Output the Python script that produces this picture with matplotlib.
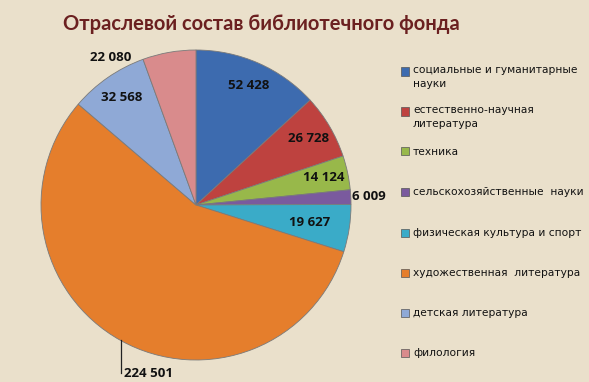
import numpy as np
import matplotlib
matplotlib.use('Agg')
import matplotlib.pyplot as plt

categories = ['социальные и гуманитарные\nнауки', 'естественно-научная\nлитература', 'техника',
              'сельскохозяйственные  науки', 'физическая культура и спорт',
              'художественная  литература', 'детская литература', 'филология']
values = [52428, 26728, 14124, 6009, 19627, 224501, 32568, 22080]
value_labels = ['52 428', '26 728', '14 124', '6 009', '19 627', '224 501', '32 568', '22 080']
colors = ['#3D6BAF', '#BE423F', '#98B84A', '#7A5A9E', '#3AABC8', '#E57E2C', '#8FA9D6', '#D98B8C']

bg = '#EAE0CB'
fig = plt.figure(figsize=(5.89, 3.82), dpi=100, facecolor=bg)
ax = fig.add_axes([41 / 589, 22 / 382, 310 / 589, 310 / 382])
ax.set_facecolor(bg)

wedges, _ = ax.pie(values, colors=colors, startangle=90, counterclock=False,
                   wedgeprops=dict(edgecolor='#7a7a7a', linewidth=0.6))
ax.set_xlim(-1, 1)
ax.set_ylim(-1, 1)
ax.set_aspect('equal')
ax.axis('off')

lab_font = dict(fontsize=9.5, fontweight='bold', family='Open Sans', color='#111111')
for i, w in enumerate(wedges):
    ang = np.deg2rad((w.theta1 + w.theta2) / 2)
    if i == 3:  # small slice - label outside
        r = 1.12
        ax.text(r * np.cos(ang), r * np.sin(ang), value_labels[i], ha='center', va='center', **lab_font)
    elif i == 5:  # leader line down
        x0, y0 = np.cos(ang), np.sin(ang)
        ax.plot([x0, x0], [y0, -1.085], color='#222222', lw=0.9, clip_on=False)
        ax.text(x0 + 0.02, -1.085, value_labels[i], ha='left', va='center', clip_on=False, **lab_font)
    elif i == 7:  # moved outside by the original layout
        ang2 = ang + np.deg2rad(20)
        r = 1.1
        ax.text(r * np.cos(ang2), r * np.sin(ang2), value_labels[i], ha='center', va='center', **lab_font)
    else:
        r = 0.84 if i != 4 else 0.74
        ax.text(r * np.cos(ang), r * np.sin(ang), value_labels[i], ha='center', va='center', **lab_font)

fig.text(0.443, 0.937, 'Отраслевой состав библиотечного фонда', ha='center', va='center',
         fontsize=14.5, fontweight='bold', family='Lato', color='#6B2020')

# legend
leg_y = [72, 112, 152, 192, 233, 273, 313, 353]
for c, lab, y in zip(colors, categories, leg_y):
    fy = 1 - y / 382
    fig.patches.append(plt.Rectangle((401 / 589, fy - 3.5 / 382), 8 / 589, 8 / 382,
                                     transform=fig.transFigure, facecolor=c,
                                     edgecolor='#555555', linewidth=0.5))
    if '\n' in lab:
        fig.text(413 / 589, fy + 7 / 382, lab, ha='left', va='top', fontsize=7.7,
                 family='DejaVu Sans', color='#111111', linespacing=1.45)
    else:
        fig.text(413 / 589, fy, lab, ha='left', va='center', fontsize=7.7,
                 family='DejaVu Sans', color='#111111')

fig.savefig('out.png', dpi=100, facecolor=bg)
